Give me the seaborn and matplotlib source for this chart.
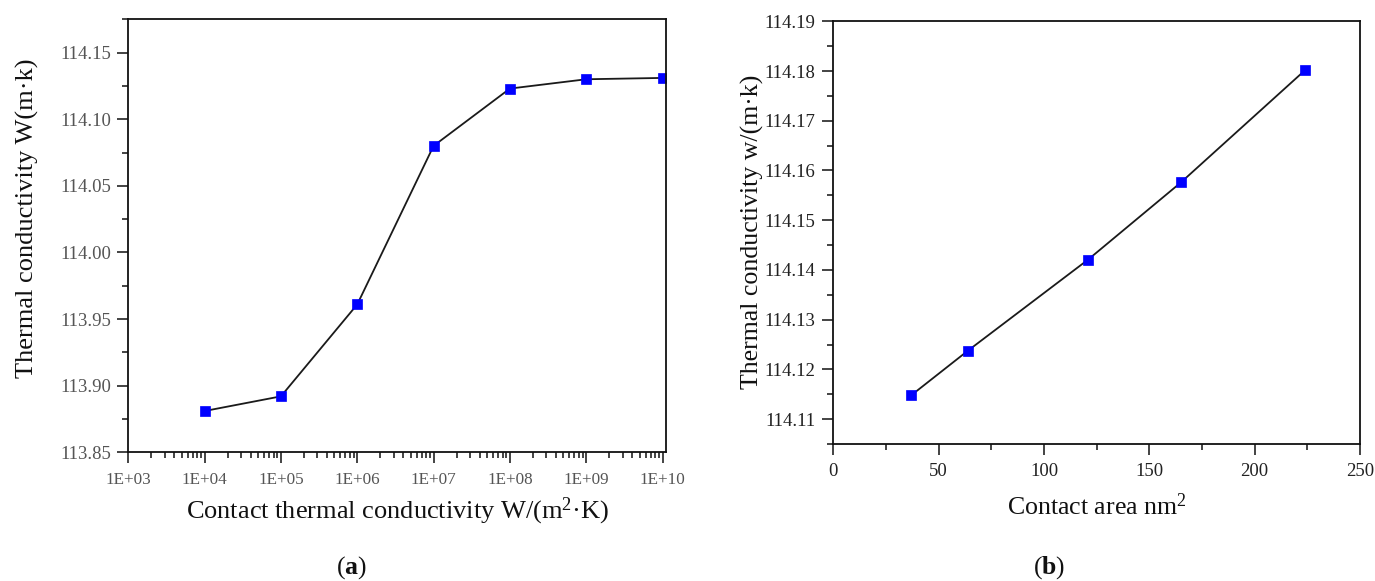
import numpy as np
import pandas as pd
import seaborn as sns
import matplotlib
matplotlib.use("Agg")
import matplotlib.pyplot as plt
from matplotlib.ticker import FuncFormatter, MultipleLocator, LogLocator, NullFormatter

# Panel (a): thermal conductivity vs. contact thermal conductivity
contact_conductance = [1e4, 1e5, 1e6, 1e7, 1e8, 1e9, 1e10]
conductivity_a = [113.881, 113.892, 113.961, 114.080, 114.123, 114.130, 114.131]

# Panel (b): thermal conductivity vs. contact area
contact_area = [37, 64, 121, 165, 224]
conductivity_b = [114.1148, 114.1238, 114.1421, 114.1576, 114.1802]

sns.set_theme(style="white")
plt.rcParams["font.family"] = ["Liberation Serif", "DejaVu Serif"]
plt.rcParams["mathtext.fontset"] = "custom"
plt.rcParams["mathtext.rm"] = "Liberation Serif"
plt.rcParams["mathtext.bf"] = "Liberation Serif:bold"
plt.rcParams["mathtext.it"] = "Liberation Serif:italic"

W, H = 1375, 581
fig = plt.figure(figsize=(W / 100, H / 100), dpi=100)
fig.patch.set_facecolor("white")


def box(l, t, r, b):
    return [l / W, 1 - b / H, (r - l) / W, (b - t) / H]


ax1 = fig.add_axes(box(128.3, 19.3, 666, 452.3))
ax2 = fig.add_axes(box(833.3, 21.3, 1360, 444))

line_kw = dict(color="#1a1a1a", linewidth=1.3, marker="s", markersize=6.8,
               markerfacecolor="#0000ff", markeredgecolor="#0000ff",
               markeredgewidth=0.5)

df_a = pd.DataFrame({"h": contact_conductance, "k": conductivity_a})
df_b = pd.DataFrame({"area": contact_area, "k": conductivity_b})

ax1.set_xscale("log")
sns.lineplot(data=df_a, x="h", y="k", ax=ax1, **line_kw)
sns.lineplot(data=df_b, x="area", y="k", ax=ax2, **line_kw)

for ax in (ax1, ax2):
    ax.set_facecolor("white")
    for s in ax.spines.values():
        s.set_color("#111111")
        s.set_linewidth(1.3)
    ax.tick_params(which="both", direction="out", top=False, right=False,
                   bottom=True, left=True, color="#111111", width=1.1)
    ax.tick_params(which="major", length=8)
    ax.tick_params(which="minor", length=4)
    ax.grid(False)

# ---- Panel (a) axes ----
ax1.set_xlim(1e3, 1.11e10)
ax1.set_ylim(113.85, 114.175)
ax1.set_xticks([10.0 ** e for e in range(3, 11)])
ax1.xaxis.set_minor_locator(LogLocator(base=10, subs=np.arange(2, 10), numticks=20))
ax1.xaxis.set_minor_formatter(NullFormatter())
ax1.xaxis.set_major_formatter(FuncFormatter(lambda v, p: f"{v:.0E}"))
ax1.yaxis.set_major_locator(MultipleLocator(0.05))
ax1.yaxis.set_minor_locator(MultipleLocator(0.025))
ax1.yaxis.set_major_formatter(FuncFormatter(lambda v, p: f"{v:.2f}"))
ax1.tick_params(axis="x", which="major", pad=6, labelsize=12.3, labelcolor="#555555")
ax1.tick_params(axis="y", which="major", pad=4, labelsize=13.5, labelcolor="#555555")
ax1.set_xlabel(r"Contact thermal conductivity W/(m$^2$·K)", fontsize=19, color="#111111")
ax1.set_ylabel("Thermal conductivity W(m·k)", fontsize=19, color="#111111")
ax1.xaxis.set_label_coords(0.5, -0.1)
ax1.yaxis.set_label_coords(-0.167, 0.54)

# ---- Panel (b) axes ----
ax2.set_xlim(0, 250)
ax2.set_ylim(114.105, 114.19)
ax2.xaxis.set_major_locator(MultipleLocator(50))
ax2.xaxis.set_minor_locator(MultipleLocator(25))
ax2.yaxis.set_major_locator(MultipleLocator(0.01))
ax2.yaxis.set_minor_locator(MultipleLocator(0.005))
ax2.yaxis.set_major_formatter(FuncFormatter(lambda v, p: f"{v:.2f}"))
ax2.tick_params(axis="x", which="major", pad=5.5, labelsize=13.5, labelcolor="#222222")
ax2.tick_params(axis="y", which="major", pad=5, labelsize=13.5, labelcolor="#222222")
ax2.set_xlabel(r"Contact area nm$^2$", fontsize=18.6, color="#111111")
ax2.set_ylabel("Thermal conductivity w/(m·k)", fontsize=18.6, color="#111111")
ax2.xaxis.set_label_coords(0.5, -0.118)
ax2.yaxis.set_label_coords(-0.1316, 0.503)

# Panel captions
fig.text(351 / W, 1 - 568 / H, r"($\mathbf{a}$)", ha="center", va="center",
         fontsize=18.5, color="#111111")
fig.text(1049.5 / W, 1 - 568 / H, r"($\mathbf{b}$)", ha="center", va="center",
         fontsize=18.5, color="#111111")

fig.savefig("out.png", dpi=100, facecolor="white")
